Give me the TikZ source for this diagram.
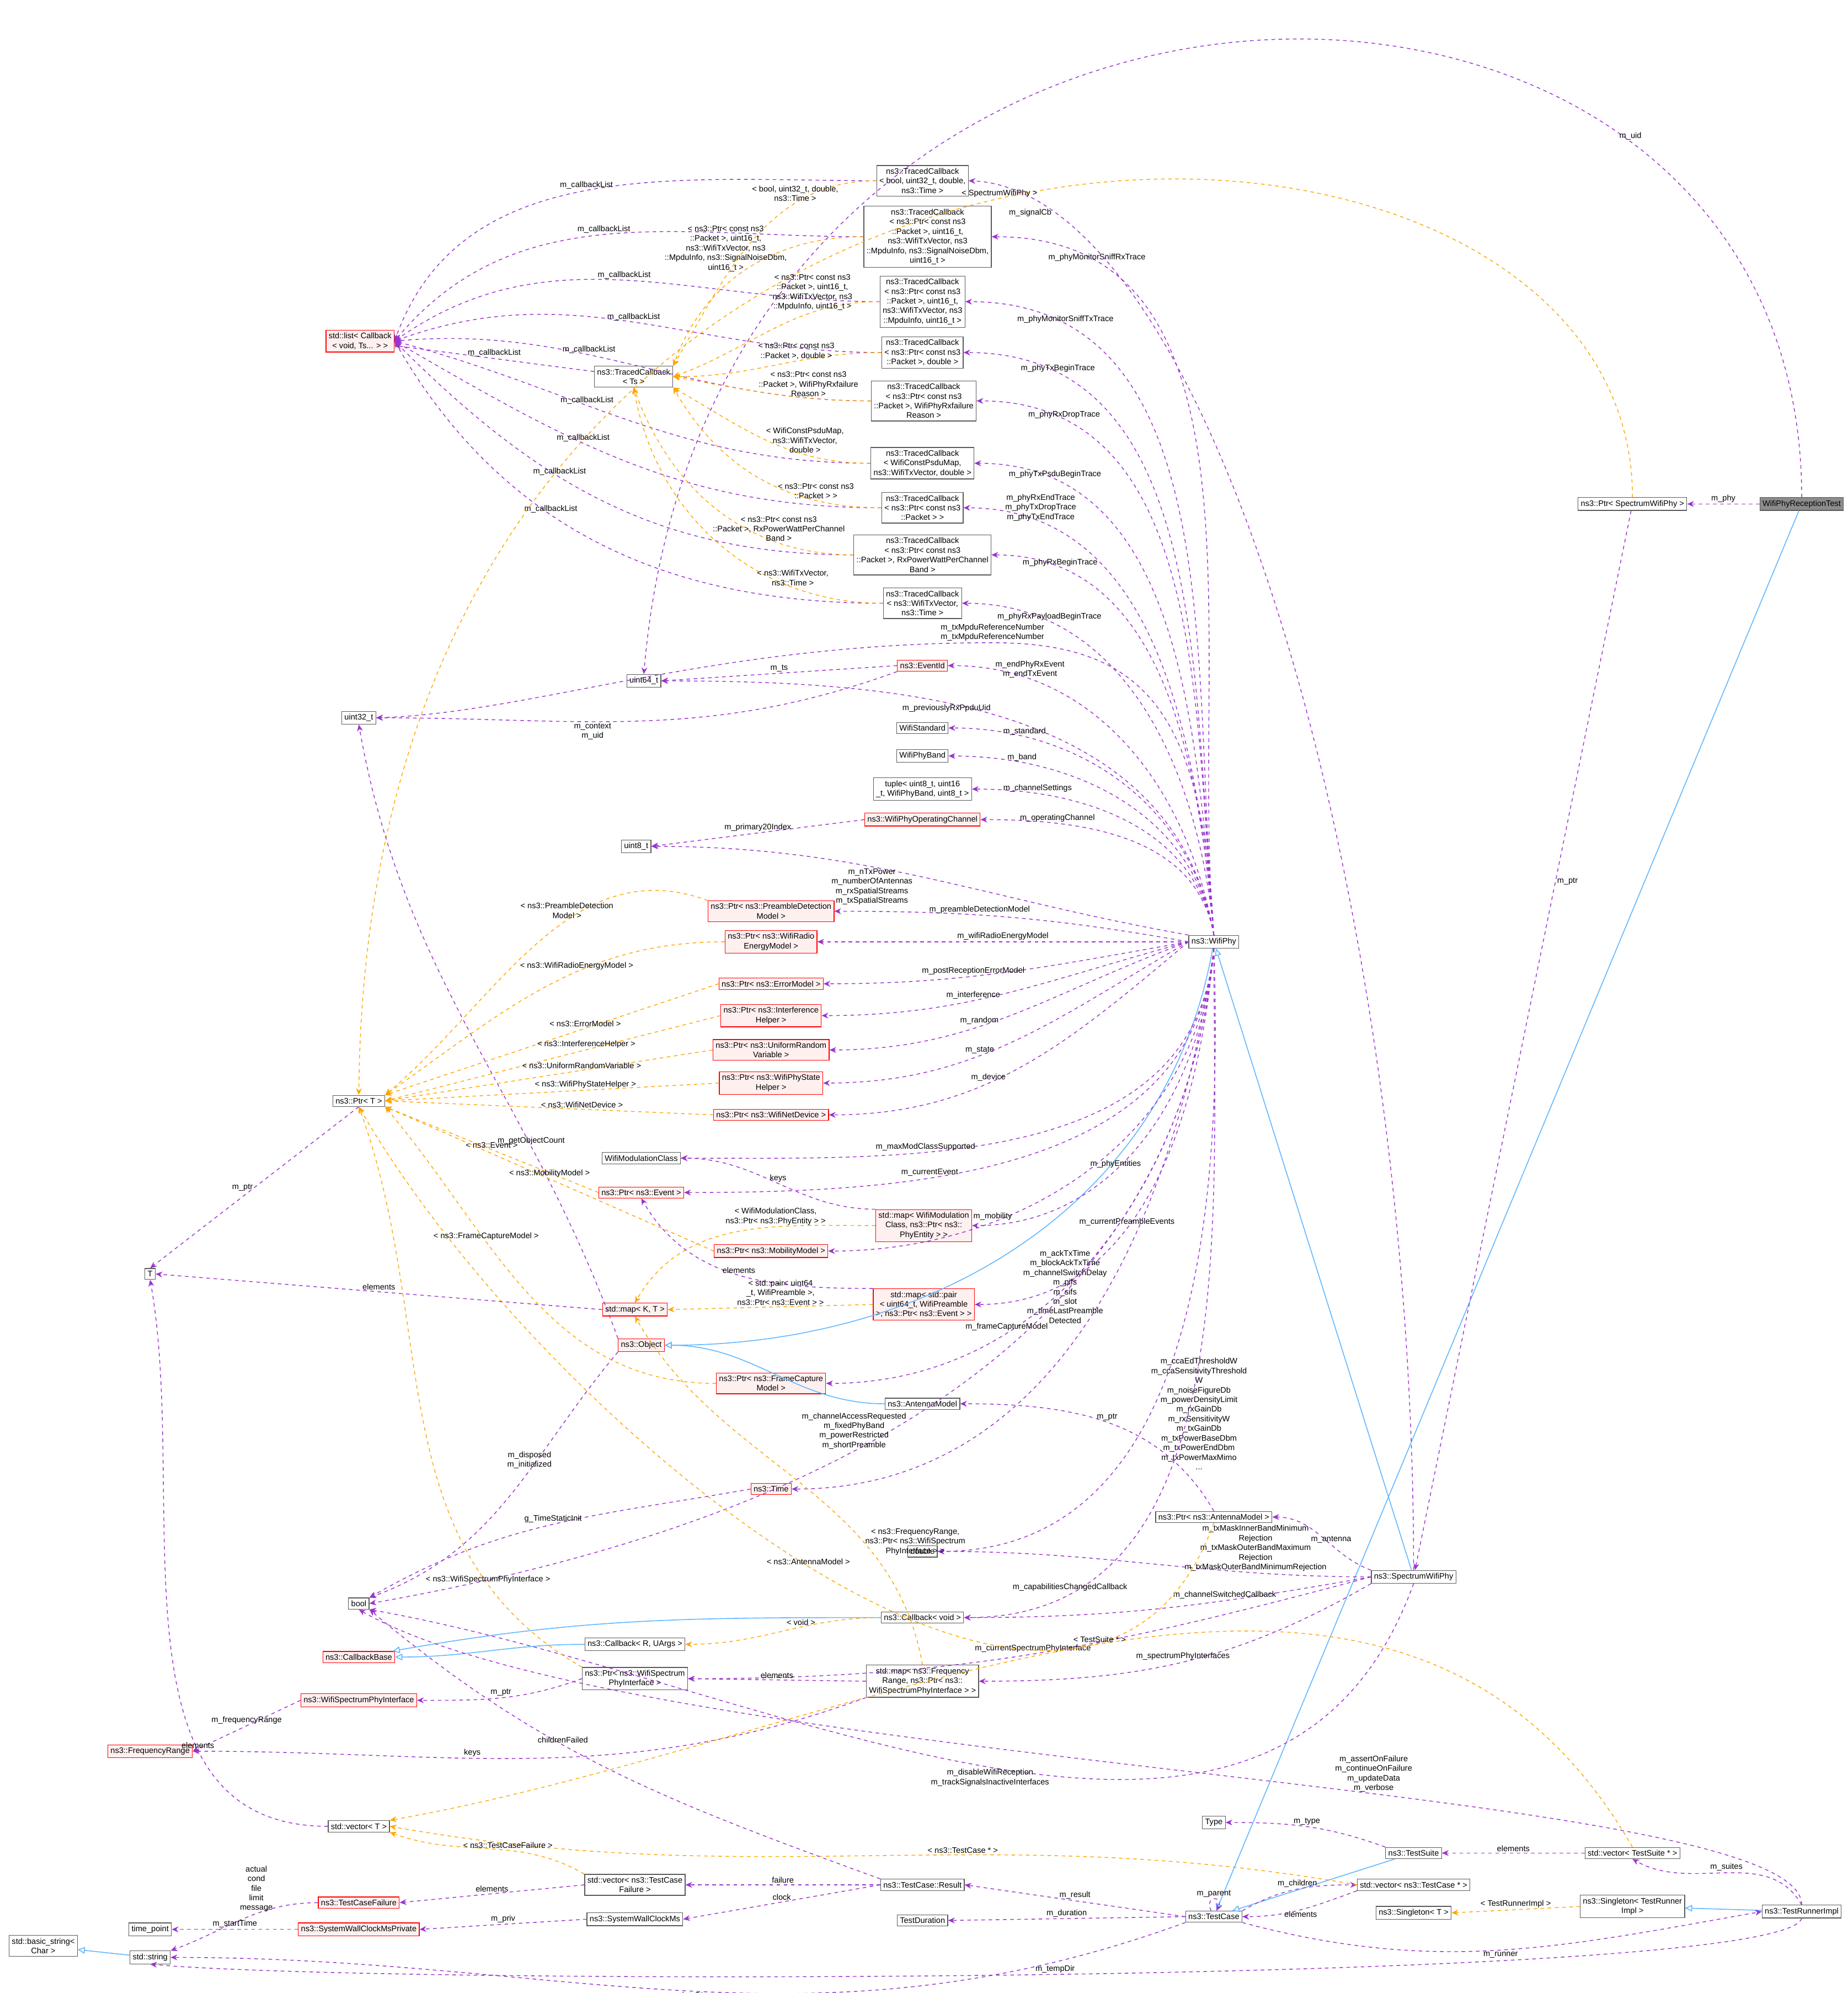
\documentclass[tikz,border=0pt]{standalone}
\usepackage{fontspec}
\setmainfont{Liberation Sans}
\usetikzlibrary{arrows.meta}
\definecolor{memc}{HTML}{9A32CD}
\definecolor{tmplc}{HTML}{FFA500}
\definecolor{inhc}{HTML}{63B8FF}
\tikzset{
  cls/.style={draw=black!65, fill=white, inner sep=1.2pt, align=center, font=\fontsize{3.6}{4.3}\selectfont, line width=0.3pt},
  redcls/.style={cls, draw=red, fill=red!6},
  topcls/.style={cls, fill=black!45},
  lbl/.style={font=\fontsize{3.6}{4.3}\selectfont, align=center, inner sep=0.6pt},
  mem/.style={draw=memc, line width=0.35pt, dash pattern=on 1.6pt off 1.6pt, -{Stealth[length=3pt,width=2.6pt]}},
  tmpl/.style={draw=tmplc, line width=0.35pt, dash pattern=on 1.6pt off 1.6pt, -{Stealth[length=3pt,width=2.6pt]}},
  inh/.style={draw=inhc, line width=0.4pt, -{Triangle[open,length=3.2pt,width=3pt]}},
}
\begin{document}
\catcode`\_=12
\begin{tikzpicture}[x=0.02cm, y=-0.02cm]
  \useasboundingbox (0,0) rectangle (1452,1566);

  % classes
  \node[topcls] (test) at (1416,396) {WifiPhyReceptionTest};
  \node[cls] (ptrswp) at (1283,396) {ns3::Ptr< SpectrumWifiPhy >};
  \node[redcls] (list) at (283,268) {std::list< Callback\\< void, Ts... > >};
  \node[cls] (tcts) at (498,296) {ns3::TracedCallback\\< Ts >};
  \node[cls] (tc1) at (725,142) {ns3::TracedCallback\\< bool, uint32_t, double,\\ ns3::Time >};
  \node[cls] (tc2) at (729,186) {ns3::TracedCallback\\< ns3::Ptr< const ns3\\::Packet >, uint16_t,\\ ns3::WifiTxVector, ns3\\::MpduInfo, ns3::SignalNoiseDbm,\\ uint16_t >};
  \node[cls] (tc3) at (725,237) {ns3::TracedCallback\\< ns3::Ptr< const ns3\\::Packet >, uint16_t,\\ ns3::WifiTxVector, ns3\\::MpduInfo, uint16_t >};
  \node[cls] (tc4) at (725,277) {ns3::TracedCallback\\< ns3::Ptr< const ns3\\::Packet >, double >};
  \node[cls] (tc5) at (726,315) {ns3::TracedCallback\\< ns3::Ptr< const ns3\\::Packet >, WifiPhyRxfailure\\Reason >};
  \node[cls] (tc6) at (725,364) {ns3::TracedCallback\\< WifiConstPsduMap,\\ ns3::WifiTxVector, double >};
  \node[cls] (tc7) at (725,399) {ns3::TracedCallback\\< ns3::Ptr< const ns3\\::Packet > >};
  \node[cls] (tc8) at (725,436) {ns3::TracedCallback\\< ns3::Ptr< const ns3\\::Packet >, RxPowerWattPerChannel\\Band >};
  \node[cls] (tc9) at (725,474) {ns3::TracedCallback\\< ns3::WifiTxVector,\\ ns3::Time >};
  \node[cls] (u64) at (506,535) {uint64_t};
  \node[redcls] (evid) at (725,523) {ns3::EventId};
  \node[cls] (u32) at (282,564) {uint32_t};
  \node[cls] (wstd) at (725,572) {WifiStandard};
  \node[cls] (band) at (725,594) {WifiPhyBand};
  \node[cls] (tuple) at (725,620) {tuple< uint8_t, uint16\\_t, WifiPhyBand, uint8_t >};
  \node[redcls] (opch) at (725,644) {ns3::WifiPhyOperatingChannel};
  \node[cls] (u8) at (500,665) {uint8_t};
  \node[redcls] (pdet) at (606,716) {ns3::Ptr< ns3::PreambleDetection\\Model >};
  \node[redcls] (pen) at (606,740) {ns3::Ptr< ns3::WifiRadio\\EnergyModel >};
  \node[redcls] (perr) at (606,773) {ns3::Ptr< ns3::ErrorModel >};
  \node[redcls] (pint) at (606,798) {ns3::Ptr< ns3::Interference\\Helper >};
  \node[redcls] (prnd) at (606,825) {ns3::Ptr< ns3::UniformRandom\\Variable >};
  \node[redcls] (pst) at (606,851) {ns3::Ptr< ns3::WifiPhyState\\Helper >};
  \node[redcls] (pdev) at (606,876) {ns3::Ptr< ns3::WifiNetDevice >};
  \node[cls] (wp) at (954,740) {ns3::WifiPhy};
  \node[cls] (ptrt) at (282,865) {ns3::Ptr< T >};
  \node[cls] (wmc) at (504,910) {WifiModulationClass};
  \node[redcls] (pev) at (504,937) {ns3::Ptr< ns3::Event >};
  \node[redcls] (mpe) at (726,963) {std::map< WifiModulation\\Class, ns3::Ptr< ns3::\\PhyEntity > >};
  \node[redcls] (pmob) at (606,983) {ns3::Ptr< ns3::MobilityModel >};
  \node[cls] (T) at (118,1001) {T};
  \node[redcls] (mkt) at (499,1029) {std::map< K, T >};
  \node[redcls] (mpair) at (726,1025) {std::map< std::pair\\< uint64_t, WifiPreamble\\ >, ns3::Ptr< ns3::Event > >};
  \node[redcls] (obj) at (504,1057) {ns3::Object};
  \node[redcls] (pfc) at (606,1087) {ns3::Ptr< ns3::FrameCapture\\Model >};
  \node[cls] (ant) at (725,1103) {ns3::AntennaModel};
  \node[redcls] (ntime) at (606,1170) {ns3::Time};
  \node[cls] (pant) at (954,1192) {ns3::Ptr< ns3::AntennaModel >};
  \node[cls] (dbl) at (725,1219) {double};
  \node[cls] (swp) at (1111,1239) {ns3::SpectrumWifiPhy};
  \node[cls] (bool) at (282,1260) {bool};
  \node[cls] (cbv) at (725,1271) {ns3::Callback< void >};
  \node[cls] (cbr) at (499,1292) {ns3::Callback< R, UArgs >};
  \node[redcls] (cbb) at (282,1302) {ns3::CallbackBase};
  \node[cls] (pwspi) at (499,1319) {ns3::Ptr< ns3::WifiSpectrum\\PhyInterface >};
  \node[cls] (mfr) at (725,1321) {std::map< ns3::Frequency\\Range, ns3::Ptr< ns3::\\WifiSpectrumPhyInterface > >};
  \node[redcls] (wspi) at (282,1336) {ns3::WifiSpectrumPhyInterface};
  \node[redcls] (fr) at (118,1376) {ns3::FrequencyRange};
  \node[cls] (vt) at (282,1435) {std::vector< T >};
  \node[cls] (type) at (954,1432) {Type};
  \node[cls] (ts) at (1111,1456) {ns3::TestSuite};
  \node[cls] (vts) at (1283,1456) {std::vector< TestSuite * >};
  \node[cls] (vtc) at (1111,1481) {std::vector< ns3::TestCase * >};
  \node[cls] (sgt) at (1111,1503) {ns3::Singleton< T >};
  \node[cls] (sgr) at (1283,1498) {ns3::Singleton< TestRunner\\Impl >};
  \node[cls] (tri) at (1416,1502) {ns3::TestRunnerImpl};
  \node[cls] (tcase) at (954,1506) {ns3::TestCase};
  \node[cls] (tdur) at (725,1509) {TestDuration};
  \node[cls] (res) at (725,1481) {ns3::TestCase::Result};
  \node[cls] (vtcf) at (499,1481) {std::vector< ns3::TestCase\\Failure >};
  \node[redcls] (tfail) at (282,1495) {ns3::TestCaseFailure};
  \node[cls] (swc) at (499,1508) {ns3::SystemWallClockMs};
  \node[redcls] (swcp) at (282,1516) {ns3::SystemWallClockMsPrivate};
  \node[cls] (tp) at (118,1516) {time_point};
  \node[cls] (str) at (118,1538) {std::string};
  \node[cls] (bstr) at (34,1529) {std::basic_string<\\ Char >};

  % inheritance
  \draw[inh] (test) -- (tcase);
  \draw[inh] (swp) -- (wp);
  \draw[inh] (wp) to[out=260,in=0] (obj);
  \draw[inh] (ant) to[out=180,in=0] (obj);
  \draw[inh] (cbv) to[out=180,in=10] (cbb);
  \draw[inh] (cbr) to[out=180,in=0] (cbb);
  \draw[inh] (ts) -- (tcase);
  \draw[inh] (tri) -- (sgr);
  \draw[inh] (str) -- (bstr);

  % test side
  \draw[mem] (test.north) .. controls (1416,-110) and (560,-110) .. node[lbl,above,pos=0.25]{m_uid} (u64.north);
  \draw[mem] (test) -- node[lbl,above]{m_phy} (ptrswp);
  \draw[tmpl] (ptrswp.north) .. controls (1283,10) and (290,-10) .. node[lbl,above,pos=0.5]{< SpectrumWifiPhy >} (ptrt.north);
  \draw[mem] (ptrswp) -- node[lbl,right,pos=0.35]{m_ptr} (swp);

  % traced callbacks
  \foreach \t/\h/\p in {tc1/70/0.5,tc2/50/0.5,tc3/35/0.5,tc4/20/0.5,tc5/5/0.6,tc6/-15/0.6,tc7/-30/0.6,tc8/-45/0.6,tc9/-60/0.6}
    \draw[mem] (\t.west) to[out=180,in=\h] node[lbl,above,pos=\p]{m_callbackList} (list.east);
  \draw[mem] (tcts) -- node[lbl,above]{m_callbackList} (list);
  \draw[tmpl] (tc1.west) to[out=180,in=60] node[lbl,above,pos=0.3]{< bool, uint32_t, double,\\ ns3::Time >} (tcts.north east);
  \draw[tmpl] (tc2.west) to[out=180,in=70] node[lbl,left,pos=0.3]{< ns3::Ptr< const ns3\\::Packet >, uint16_t,\\ ns3::WifiTxVector, ns3\\::MpduInfo, ns3::SignalNoiseDbm,\\ uint16_t >} (tcts.north east);
  \draw[tmpl] (tc3.west) to[out=180,in=20] node[lbl,above,pos=0.3]{< ns3::Ptr< const ns3\\::Packet >, uint16_t,\\ ns3::WifiTxVector, ns3\\::MpduInfo, uint16_t >} (tcts.east);
  \draw[tmpl] (tc4.west) to[out=180,in=0] node[lbl,above,pos=0.4]{< ns3::Ptr< const ns3\\::Packet >, double >} (tcts.east);
  \draw[tmpl] (tc5.west) to[out=180,in=-10] node[lbl,above,pos=0.3]{< ns3::Ptr< const ns3\\::Packet >, WifiPhyRxfailure\\Reason >} (tcts.east);
  \draw[tmpl] (tc6.west) to[out=180,in=-30] node[lbl,above,pos=0.3]{< WifiConstPsduMap,\\ ns3::WifiTxVector,\\ double >} (tcts.south east);
  \draw[tmpl] (tc7.west) to[out=180,in=-60] node[lbl,above,pos=0.25]{< ns3::Ptr< const ns3\\::Packet > >} (tcts.south east);
  \draw[tmpl] (tc8.west) to[out=180,in=-70] node[lbl,above,pos=0.25]{< ns3::Ptr< const ns3\\::Packet >, RxPowerWattPerChannel\\Band >} (tcts.south);
  \draw[tmpl] (tc9.west) to[out=180,in=-80] node[lbl,above,pos=0.25]{< ns3::WifiTxVector,\\ ns3::Time >} (tcts.south);

  % WifiPhy members
  \draw[mem] (wp.north) to[out=95,in=0] node[lbl,above,pos=0.85]{m_phyMonitorSniffRxTrace} (tc2.east);
  \draw[mem] (wp.north) to[out=95,in=0] node[lbl,above,pos=0.85]{m_phyMonitorSniffTxTrace} (tc3.east);
  \draw[mem] (wp.north) to[out=95,in=0] node[lbl,above,pos=0.85]{m_phyTxBeginTrace} (tc4.east);
  \draw[mem] (wp.north) to[out=95,in=0] node[lbl,above,pos=0.85]{m_phyRxDropTrace} (tc5.east);
  \draw[mem] (wp.north) to[out=95,in=0] node[lbl,above,pos=0.85]{m_phyTxPsduBeginTrace} (tc6.east);
  \draw[mem] (wp.north) to[out=95,in=0] node[lbl,above,pos=0.85]{m_phyRxEndTrace\\m_phyTxDropTrace\\m_phyTxEndTrace} (tc7.east);
  \draw[mem] (wp.north) to[out=95,in=0] node[lbl,above,pos=0.85]{m_phyRxBeginTrace} (tc8.east);
  \draw[mem] (wp.north) to[out=95,in=0] node[lbl,above,pos=0.8]{m_phyRxPayloadBeginTrace} (tc9.east);
  \draw[mem] (wp.north) .. controls (945,560) and (900,505) .. (780,505) node[lbl,above]{m_txMpduReferenceNumber\\m_txMpduReferenceNumber} .. controls (560,505) and (420,560) .. (u32.east);
  \draw[mem] (wp.north) to[out=100,in=0] node[lbl,above,pos=0.8]{m_endPhyRxEvent\\m_endTxEvent} (evid.east);
  \draw[mem] (wp.north) to[out=100,in=0] node[lbl,below,pos=0.6]{m_previouslyRxPpduUid} (u64.east);
  \draw[mem] (wp.north) to[out=100,in=0] node[lbl,above,pos=0.8]{m_standard} (wstd.east);
  \draw[mem] (wp.north) to[out=100,in=0] node[lbl,above,pos=0.8]{m_band} (band.east);
  \draw[mem] (wp.north) to[out=100,in=0] node[lbl,above,pos=0.8]{m_channelSettings} (tuple.east);
  \draw[mem] (wp.north) to[out=100,in=0] node[lbl,above,pos=0.75]{m_operatingChannel} (opch.east);
  \draw[mem] (wp.north west) to[out=170,in=0] node[lbl,below,pos=0.6]{m_nTxPower\\m_numberOfAntennas\\m_rxSpatialStreams\\m_txSpatialStreams} (u8.east);
  \draw[mem] (wp.west) to[out=170,in=0] node[lbl,above,pos=0.6]{m_preambleDetectionModel} (pdet.east);
  \draw[mem] (wp.west) -- node[lbl,above,pos=0.5]{m_wifiRadioEnergyModel} (pen.east);
  \draw[mem] (wp.west) to[out=190,in=0] node[lbl,above,pos=0.6]{m_postReceptionErrorModel} (perr.east);
  \draw[mem] (wp.west) to[out=195,in=0] node[lbl,above,pos=0.6]{m_interference} (pint.east);
  \draw[mem] (wp.west) to[out=200,in=0] node[lbl,above,pos=0.6]{m_random} (prnd.east);
  \draw[mem] (wp.west) to[out=210,in=0] node[lbl,above,pos=0.6]{m_state} (pst.east);
  \draw[mem] (wp.west) to[out=220,in=0] node[lbl,above,pos=0.6]{m_device} (pdev.east);
  \draw[mem] (wp.south) to[out=265,in=0] node[lbl,above,pos=0.65]{m_maxModClassSupported} (wmc.east);
  \draw[mem] (wp.south) to[out=265,in=0] node[lbl,above,pos=0.65]{m_currentEvent} (pev.east);
  \draw[mem] (wp.south) to[out=265,in=0] node[lbl,above,pos=0.6]{m_phyEntities} (mpe.east);
  \draw[mem] (wp.south) to[out=265,in=0] node[lbl,above,pos=0.7]{m_mobility} (pmob.east);
  \draw[mem] (wp.south) to[out=265,in=0] node[lbl,above,pos=0.6]{m_currentPreambleEvents} (mpair.east);
  \draw[mem] (wp.south) to[out=265,in=0] node[lbl,above,pos=0.7]{m_frameCaptureModel} (pfc.east);
  \draw[mem] (wp.south) to[out=262,in=0] node[lbl,left,pos=0.45]{m_ackTxTime\\m_blockAckTxTime\\m_channelSwitchDelay\\m_pifs\\m_sifs\\m_slot\\m_timeLastPreamble\\Detected} (ntime.east);
  \draw[mem] (wp.south) to[out=272,in=0] node[lbl,right,pos=0.6]{m_ccaEdThresholdW\\m_ccaSensitivityThreshold\\W\\m_noiseFigureDb\\m_powerDensityLimit\\m_rxGainDb\\m_rxSensitivityW\\m_txGainDb\\m_txPowerBaseDbm\\m_txPowerEndDbm\\m_txPowerMaxMimo\\...} (dbl.east);
  \draw[mem] (wp.south) to[out=265,in=10] node[lbl,above,pos=0.58]{m_channelAccessRequested\\m_fixedPhyBand\\m_powerRestricted\\m_shortPreamble} (bool.east);
  \draw[mem] (wp.south) to[out=270,in=0] node[lbl,above,pos=0.85]{m_capabilitiesChangedCallback} (cbv.east);

  % SpectrumWifiPhy members
  \draw[mem] (swp.north) .. controls (1111,700) and (950,150) .. node[lbl,left,pos=0.88]{m_signalCb} (tc1.east);
  \draw[mem] (swp.north west) to[out=160,in=0] node[lbl,above,pos=0.4]{m_antenna} (pant.east);
  \draw[mem] (swp.west) to[out=180,in=0] node[lbl,above,pos=0.25]{m_txMaskInnerBandMinimum\\Rejection\\m_txMaskOuterBandMaximum\\Rejection\\m_txMaskOuterBandMinimumRejection} (dbl.east);
  \draw[mem] (swp.west) to[out=190,in=0] node[lbl,above,pos=0.35]{m_channelSwitchedCallback} (cbv.east);
  \draw[mem] (swp.west) to[out=195,in=0] node[lbl,above,pos=0.5]{m_currentSpectrumPhyInterface} (pwspi.east);
  \draw[mem] (swp.south west) to[out=210,in=0] node[lbl,above,pos=0.5]{m_spectrumPhyInterfaces} (mfr.east);
  \draw[mem] (swp.south) to[out=250,in=-10] node[lbl,below,pos=0.5]{m_disableWifiReception\\m_trackSignalsInactiveInterfaces} (bool.south east);
  \draw[mem] (pant.north) to[out=120,in=0] node[lbl,above,pos=0.5]{m_ptr} (ant.east);
  \draw[tmpl] (pant.south) to[out=250,in=-60] node[lbl,above,pos=0.5]{< ns3::AntennaModel >} (ptrt.south);

  % smaller members
  \draw[mem] (evid.west) -- node[lbl,above]{m_ts} (u64.east);
  \draw[mem] (evid.south west) to[out=200,in=0] node[lbl,below,pos=0.6]{m_context\\m_uid} (u32.east);
  \draw[mem] (opch.west) -- node[lbl,above]{m_primary20Index} (u8.east);
  \draw[mem] (ptrt.south) -- node[lbl,left]{m_ptr} (T.north);
  \draw[mem] (obj.north west) to[out=110,in=-80] node[lbl,above,pos=0.3]{m_getObjectCount} (u32.south);
  \draw[mem] (obj.south west) to[out=230,in=20] node[lbl,above,pos=0.4]{m_disposed\\m_initialized} (bool.north east);
  \draw[mem] (mpe.north west) to[out=180,in=0] node[lbl,above,pos=0.5]{keys} (wmc.east);
  \draw[tmpl] (mpe.west) to[out=180,in=60] node[lbl,above,pos=0.35]{< WifiModulationClass,\\ ns3::Ptr< ns3::PhyEntity > >} (mkt.north);
  \draw[mem] (mpair.north west) to[out=180,in=-60] node[lbl,above,pos=0.5]{elements} (pev.south);
  \draw[tmpl] (mpair.west) -- node[lbl,above,pos=0.45]{< std::pair< uint64\\_t, WifiPreamble >,\\ ns3::Ptr< ns3::Event > >} (mkt.east);
  \draw[mem] (mkt.west) -- node[lbl,above]{elements} (T.east);
  \draw[mem] (ntime.west) to[out=190,in=30] node[lbl,above,pos=0.5]{g_TimeStaticInit} (bool.north east);
  \draw[tmpl] (cbv.west) to[out=180,in=0] node[lbl,above,pos=0.4]{< void >} (cbr.east);
  \draw[tmpl] (pwspi.north west) to[out=150,in=-70] node[lbl,above,pos=0.2]{< ns3::WifiSpectrumPhyInterface >} (ptrt.south);
  \draw[mem] (pwspi.west) to[out=200,in=0] node[lbl,above,pos=0.5]{m_ptr} (wspi.east);
  \draw[mem] (mfr.west) -- node[lbl,above]{elements} (pwspi.east);
  \draw[mem] (mfr.south west) to[out=200,in=0] node[lbl,above,pos=0.6]{keys} (fr.east);
  \draw[tmpl] (mfr.north) to[out=100,in=-60] node[lbl,right,pos=0.3]{< ns3::FrequencyRange,\\ ns3::Ptr< ns3::WifiSpectrum\\PhyInterface > >} (mkt.south);
  \draw[mem] (wspi.west) -- node[lbl,above]{m_frequencyRange} (fr.east);
  \draw[mem] (vt.west) to[out=180,in=-80] node[lbl,above,pos=0.3]{elements} (T.south);

  % Ptr instances to Ptr< T >
  \draw[tmpl] (pdet.north west) to[out=160,in=40] node[lbl,above,pos=0.4]{< ns3::PreambleDetection\\Model >} (ptrt.north east);
  \draw[tmpl] (pen.west) to[out=180,in=35] node[lbl,above,pos=0.4]{< ns3::WifiRadioEnergyModel >} (ptrt.north east);
  \draw[tmpl] (perr.west) -- node[lbl,above,pos=0.4]{< ns3::ErrorModel >} (ptrt.north east);
  \draw[tmpl] (pint.west) -- node[lbl,above,pos=0.4]{< ns3::InterferenceHelper >} (ptrt.east);
  \draw[tmpl] (prnd.west) -- node[lbl,above,pos=0.4]{< ns3::UniformRandomVariable >} (ptrt.east);
  \draw[tmpl] (pst.west) -- node[lbl,above,pos=0.4]{< ns3::WifiPhyStateHelper >} (ptrt.east);
  \draw[tmpl] (pdev.west) -- node[lbl,above,pos=0.4]{< ns3::WifiNetDevice >} (ptrt.east);
  \draw[tmpl] (pev.west) -- node[lbl,above,pos=0.5]{< ns3::Event >} (ptrt.south east);
  \draw[tmpl] (pmob.west) -- node[lbl,above,pos=0.5]{< ns3::MobilityModel >} (ptrt.south east);
  \draw[tmpl] (pfc.west) to[out=180,in=-50] node[lbl,above,pos=0.65]{< ns3::FrameCaptureModel >} (ptrt.south east);

  % test framework
  \draw[mem] (tcase) to[out=115,in=65,looseness=8] node[lbl,above]{m_parent} (tcase);
  \draw[mem] (tcase.north east) to[out=30,in=180] node[lbl,above,pos=0.5]{m_children} (vtc.west);
  \draw[mem] (vtc.south west) to[out=200,in=0] node[lbl,below,pos=0.5]{elements} (tcase.east);
  \draw[tmpl] (vtc.west) to[out=170,in=-10] node[lbl,above,pos=0.4]{< ns3::TestCase * >} (vt.east);
  \draw[mem] (tcase.west) -- node[lbl,above]{m_result} (res.east);
  \draw[mem] (tcase.west) -- node[lbl,above]{m_duration} (tdur.east);
  \draw[mem] (tcase.south west) to[out=200,in=0] node[lbl,below,pos=0.5]{m_dataDir\\m_name} (str.east);
  \draw[mem] (tcase.south east) to[out=-15,in=190] node[lbl,below,pos=0.5]{m_runner} (tri.west);
  \draw[mem] (ts.north west) to[out=160,in=0] node[lbl,above,pos=0.5]{m_type} (type.east);
  \draw[mem] (vts.west) -- node[lbl,above]{elements} (ts.east);
  \draw[tmpl] (vts.north) to[out=120,in=10] node[lbl,above,pos=0.5]{< TestSuite * >} (vt.north east);
  \draw[mem] (tri.north) to[out=120,in=-30] node[lbl,above,pos=0.5]{m_suites} (vts.south);
  \draw[tmpl] (sgr.west) -- node[lbl,above]{< TestRunnerImpl >} (sgt.east);
  \draw[mem] (tri.north) .. controls (1416,1400) and (500,1390) .. node[lbl,above,pos=0.4]{m_assertOnFailure\\m_continueOnFailure\\m_updateData\\m_verbose} (bool.south);
  \draw[mem] (tri.south) .. controls (1400,1560) and (300,1560) .. node[lbl,above,pos=0.5]{m_tempDir} (str.south);
  \draw[mem] (res.west) -- node[lbl,above]{failure} (vtcf.east);
  \draw[mem] (res.west) -- node[lbl,above]{clock} (swc.east);
  \draw[mem] (res.north west) to[out=160,in=-40] node[lbl,above,pos=0.6]{childrenFailed} (bool.south east);
  \draw[mem] (vtcf.west) -- node[lbl,above]{elements} (tfail.east);
  \draw[tmpl] (vtcf.north west) to[out=150,in=-20] node[lbl,above,pos=0.4]{< ns3::TestCaseFailure >} (vt.south east);
  \draw[mem] (tfail.west) to[out=180,in=20] node[lbl,above,pos=0.4]{actual\\cond\\file\\limit\\message} (str.north east);
  \draw[mem] (swc.west) -- node[lbl,above]{m_priv} (swcp.east);
  \draw[mem] (swcp.west) -- node[lbl,above]{m_startTime} (tp.east);
\end{tikzpicture}
\end{document}
